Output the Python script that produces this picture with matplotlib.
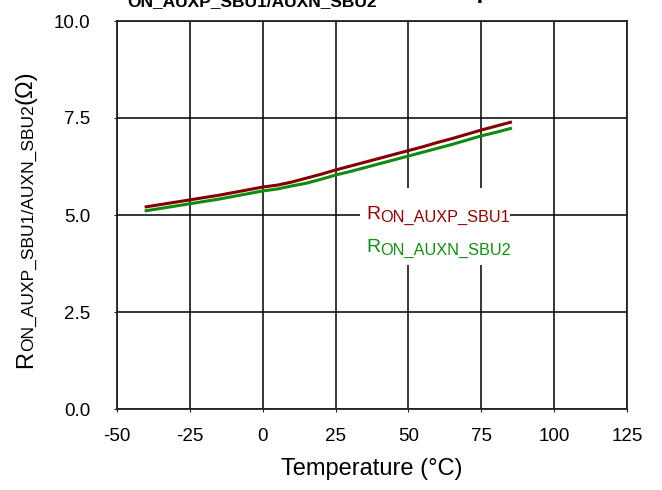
import matplotlib
matplotlib.use("Agg")
import matplotlib.pyplot as plt
from matplotlib.patches import Rectangle

plt.rcParams['font.family'] = ['Liberation Sans', 'DejaVu Sans']
plt.rcParams['axes.unicode_minus'] = False

# temperature sweep (°C)
temp = [-40, -35, -30, -25, -20, -15, -10, -5, 0, 5, 10, 15, 20,
        25, 30, 35, 40, 45, 50, 55, 60, 65, 70, 75, 80, 85]
# on-resistance (ohm)
ron_auxp_sbu1 = [5.21, 5.27, 5.33, 5.39, 5.45, 5.51, 5.58, 5.65, 5.72, 5.77,
                 5.85, 5.95, 6.05, 6.16, 6.26, 6.36, 6.46, 6.56, 6.66, 6.76,
                 6.87, 6.97, 7.08, 7.19, 7.29, 7.39]
ron_auxn_sbu2 = [5.11, 5.17, 5.23, 5.29, 5.35, 5.41, 5.48, 5.55, 5.62, 5.67,
                 5.75, 5.82, 5.92, 6.03, 6.12, 6.22, 6.32, 6.42, 6.52, 6.62,
                 6.72, 6.82, 6.93, 7.04, 7.13, 7.23]

x_ticks = [-50, -25, 0, 25, 50, 75, 100, 125]
y_ticks = [0.0, 2.5, 5.0, 7.5, 10.0]

red = '#840000'
green = '#108a10'
red_txt = '#990000'
green_txt = '#109010'

W, H = 662, 490
fig = plt.figure(figsize=(W / 100, H / 100), dpi=100)
ax = fig.add_axes([117 / W, 1 - 409 / H, 510 / W, 388 / H])
renderer = fig.canvas.get_renderer()


def rich_text(x, y, parts, rotation=0, **kw):
    """Write text pieces one after another; x, y in pixels from top-left.
    parts = [(text, size, drop_px), ...]"""
    offset = 0
    for s, size, drop in parts:
        if rotation == 90:
            px, py = x + drop, y - offset
        else:
            px, py = x + offset, y + drop
        t = fig.text(px / W, 1 - py / H, s, fontsize=size, rotation=rotation,
                     rotation_mode='anchor', ha='left', va='baseline', **kw)
        ext = t.get_window_extent(renderer)
        offset += ext.height if rotation == 90 else ext.width


ax.plot(temp, ron_auxp_sbu1, color=red, lw=2.2)
ax.plot(temp, ron_auxn_sbu2, color=green, lw=2.2)

ax.set_xlim(-50, 125)
ax.set_ylim(0, 10)
ax.set_xticks(x_ticks)
ax.set_yticks(y_ticks)
ax.set_yticklabels([f'{v:.1f}' for v in y_ticks])
ax.grid(True, color='black', lw=1.1)
ax.set_axisbelow(True)
for s in ax.spines.values():
    s.set_color('#222222')
    s.set_linewidth(1.3)
ax.tick_params(direction='out', length=2, labelsize=13.5, colors='#222222',
               labelcolor='black')
ax.tick_params(axis='y', pad=17)
ax.tick_params(axis='x', pad=12)

ax.set_xlabel('Temperature (°C)', fontsize=17, labelpad=9)

# y label: R with smaller subscript, rotated
rich_text(32, 368, [('R', 17, 0), ('ON_AUXP_SBU1/AUXN_SBU2', 12.5, 0.5),
                    ('(Ω)', 17, 0)], rotation=90)

# legend with white background
ax.add_patch(Rectangle((360 / W, 1 - 265 / H), 150 / W, 77 / H,
                       transform=fig.transFigure, facecolor='white',
                       edgecolor='none', clip_on=False, zorder=3))
rich_text(366, 219, [('R', 14, 0), ('ON_AUXP_SBU1', 11.7, 2.5)],
          color=red_txt, zorder=4)
rich_text(366, 252, [('R', 14, 0), ('ON_AUXN_SBU2', 11.7, 2.5)],
          color=green_txt, zorder=4)

# title, cut off at the top edge as in the source image
rich_text(110, -2, [('R', 17, 0), ('ON_AUXP_SBU1/AUXN_SBU2', 12.5, 8),
                    ('  vs  Temperature', 17, 0)], fontweight='bold')

fig.savefig('out.png', dpi=100)
